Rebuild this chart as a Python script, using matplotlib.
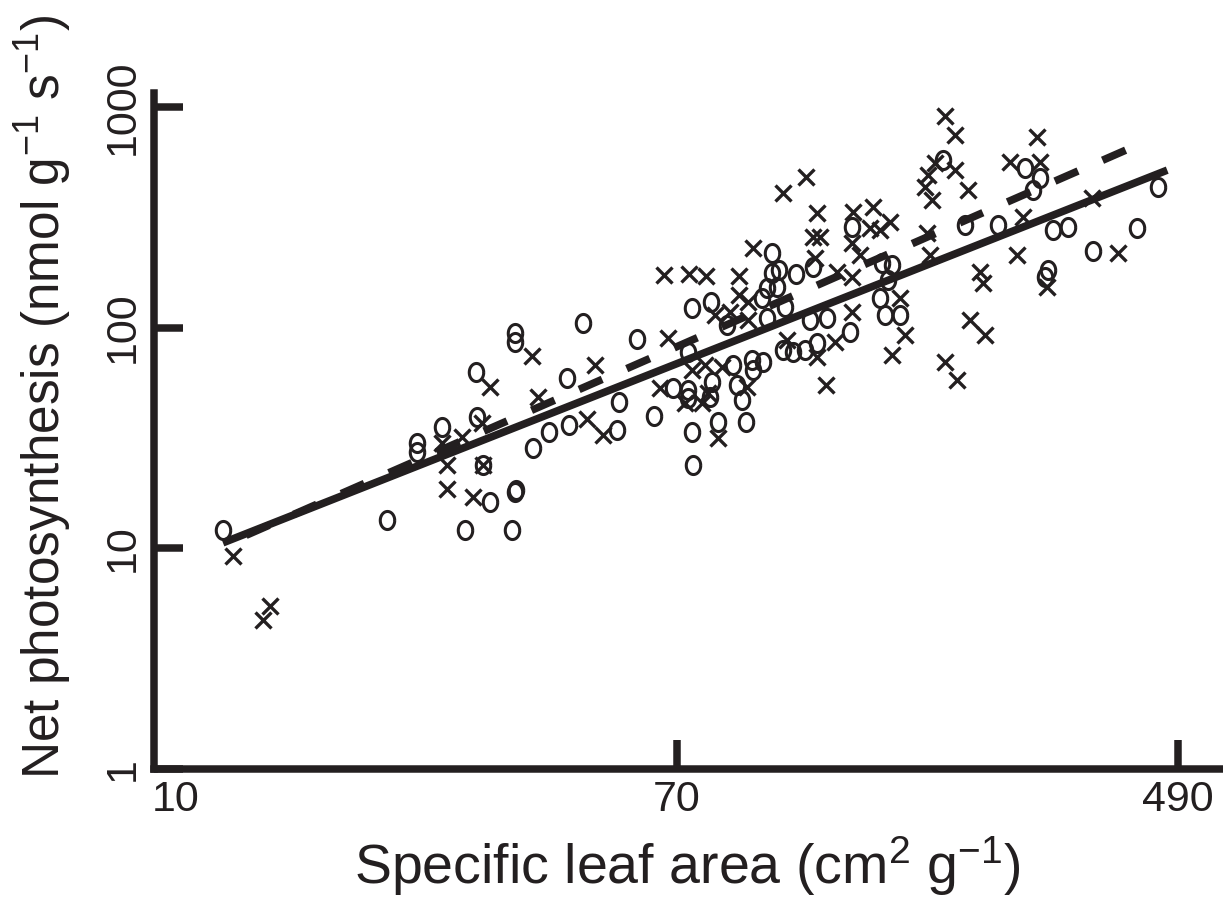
import numpy as np
import matplotlib
matplotlib.use("Agg")
import matplotlib.pyplot as plt
from matplotlib.ticker import NullLocator

# open circles: specific leaf area (cm2 g-1) vs net photosynthesis (nmol g-1 s-1)
sla_o = [12.0, 22.7, 25.5, 25.5, 28.1, 32.1, 32.2, 33.0, 30.7, 33.9,
         36.9, 37.3, 37.3, 37.3, 37.5, 40.0, 42.5, 46.0, 45.7, 48.6,
         55.5, 55.8, 59.9, 64.0, 69.0, 73.1, 73.1, 73.1, 74.2, 80.0,
         74.2, 74.5, 79.6, 80.2, 82.0, 87.1, 88.4, 90.1, 91.5, 93.7,
         94.0, 97.8, 85.1, 97.4, 99.3, 103.2, 106.5, 99.3, 101.2, 101.2,
         104.0, 111.2, 105.7, 109.9, 115.1, 120.6, 117.4, 125.4, 118.8, 137.1,
         138.1, 155.2, 161.4, 158.8, 154.0, 157.0, 166.4, 196.7, 214.4, 243.6,
         270.9, 287.1, 279.5, 301.7, 320.0, 296.1, 292.5, 352.0, 418.0, 454.0]
pn_o = [12.1, 13.4, 30.0, 27.3, 35.5, 63.0, 39.4, 23.9, 12.1, 16.2,
        12.1, 18.0, 94.6, 86.1, 18.4, 28.5, 33.7, 36.2, 59.2, 105.0,
        34.4, 46.0, 88.9, 39.8, 53.3, 52.2, 48.0, 77.6, 123.0, 131.0,
        33.7, 23.9, 48.5, 56.7, 37.4, 67.7, 55.0, 47.0, 37.4, 71.3,
        64.3, 69.8, 103.0, 136.0, 151.0, 153.0, 124.0, 111.0, 218.0, 177.0,
        183.0, 175.0, 79.3, 77.6, 79.3, 85.3, 108.0, 111.0, 188.0, 95.5,
        286.0, 196.0, 192.0, 164.0, 136.0, 114.0, 114.0, 575.0, 292.0, 292.0,
        529.0, 476.0, 420.0, 277.0, 286.0, 183.0, 170.0, 223.0, 283.0, 434.0]

# crosses
sla_x = [12.5, 14.0, 14.4, 28.1, 30.4, 28.7, 28.7, 31.7, 33.0, 32.8,
         33.9, 39.9, 40.8, 49.4, 52.5, 50.9, 65.6, 67.6, 66.6, 73.3,
         78.3, 89.1, 74.2, 78.0, 83.3, 72.2, 77.1, 79.0, 91.9, 82.0,
         81.1, 89.1, 92.3, 86.1, 92.3, 94.0, 105.7, 115.6, 120.6, 118.8,
         122.0, 138.6, 149.9, 148.1, 154.0, 160.2, 138.1, 142.5, 119.7, 130.4,
         138.1, 107.4, 120.6, 124.9, 138.1, 129.3, 166.4, 169.7, 161.4, 198.3,
         207.7, 198.3, 206.0, 283.7, 190.7, 206.0, 185.7, 183.5, 188.6, 216.9,
         255.3, 287.1, 184.9, 187.1, 268.5, 351.0, 388.0, 262.4, 227.2, 229.8,
         294.9, 218.6, 231.5]
pn_x = [9.2, 4.73, 5.48, 30.0, 31.9, 23.9, 18.6, 17.1, 23.9, 37.0,
        53.8, 74.5, 48.5, 38.6, 32.6, 67.7, 53.3, 89.8, 173.0, 175.0,
        171.0, 171.0, 64.3, 67.7, 66.4, 45.6, 45.6, 50.6, 53.8, 31.6,
        114.0, 141.0, 131.0, 118.0, 108.0, 230.0, 407.0, 481.0, 331.0, 258.0,
        258.0, 334.0, 352.0, 283.0, 277.0, 301.0, 242.0, 213.0, 207.0, 179.0,
        170.0, 88.0, 73.7, 55.0, 118.0, 86.1, 136.0, 92.7, 75.2, 69.8,
        57.9, 910.0, 746.0, 731.0, 557.0, 518.0, 491.0, 434.0, 379.0, 420.0,
        562.0, 562.0, 268.0, 213.0, 317.0, 387.0, 218.0, 213.0, 179.0, 159.0,
        153.0, 108.0, 92.7]

# fitted lines: log10(Pn) = a + b * log10(SLA)
fit_solid = (-0.119, 1.06)
fit_dash = (-0.256, 1.176)
solid_range = (12.0, 470.0)
dash_range = (12.0, 400.0)

xticks = [10, 70, 490]
yticks = [1, 10, 100, 1000]

ink = '#231f20'
plt.rcParams['font.family'] = ['Liberation Sans', 'DejaVu Sans']
plt.rcParams['mathtext.default'] = 'regular'

fig = plt.figure(figsize=(12.23, 9.19), dpi=100)
ax = fig.add_axes([0.1259, 0.1632, 0.8724, 0.7356])

# the circles in the figure are slightly taller than wide
t = np.linspace(0, 2 * np.pi, 60)
ellipse = np.column_stack([0.8 * np.cos(t), np.sin(t)])

ax.plot(sla_o, pn_o, linestyle='none', marker=ellipse, markersize=13,
        markerfacecolor='none', markeredgecolor=ink, markeredgewidth=2.2)
ax.plot(sla_x, pn_x, linestyle='none', marker='x', markersize=11.5,
        color=ink, markeredgewidth=2.4)

xs = np.array(solid_range)
ax.plot(xs, 10 ** (fit_solid[0] + fit_solid[1] * np.log10(xs)),
        color=ink, lw=5.5, solid_capstyle='butt')
xd = np.array(dash_range)
ax.plot(xd, 10 ** (fit_dash[0] + fit_dash[1] * np.log10(xd)),
        color=ink, lw=5.5, linestyle=(3.5, (3.3, 3.5)), dash_capstyle='butt')

ax.set_xscale('log')
ax.set_yscale('log')
ax.set_xlim(9.18, 579)
ax.set_ylim(1.0, 1156)
ax.xaxis.set_minor_locator(NullLocator())
ax.yaxis.set_minor_locator(NullLocator())
ax.set_xticks(xticks)
ax.set_yticks(yticks)
ax.set_xticklabels([str(v) for v in xticks], fontsize=31)
ax.set_yticklabels([str(v) for v in yticks], fontsize=31,
                   rotation=90, va='center')
ax.xaxis.get_major_ticks()[0].tick1line.set_visible(False)

for side in ['top', 'right']:
    ax.spines[side].set_visible(False)
for side in ['left', 'bottom']:
    ax.spines[side].set_linewidth(5.4)
    ax.spines[side].set_color(ink)
ax.tick_params(direction='in', length=21, width=5.4, color=ink,
               labelcolor=ink, pad=8)

ax.set_xlabel('Specific leaf area (cm$^{2}$ g$^{-1}$)', fontsize=40,
              color=ink, labelpad=10)
ax.set_ylabel('Net photosynthesis (nmol g$^{-1}$ s$^{-1}$)', fontsize=37,
              color=ink)
ax.yaxis.set_label_coords(-0.075, 0.55)

fig.savefig('out.png', dpi=100)
